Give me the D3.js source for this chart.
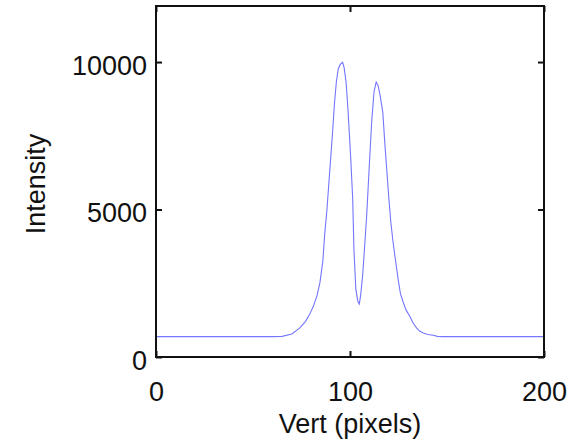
<!DOCTYPE html>
<html>
<head>
<meta charset="utf-8">
<script src="https://cdn.jsdelivr.net/npm/d3@7"></script>
<style>
  html, body { margin: 0; padding: 0; background: #fff; }
  svg text { font-family: "Liberation Sans", Arial, sans-serif; fill: #111; }
</style>
</head>
<body>
<svg id="chart" width="568" height="444"></svg>
<script>
// ---- data ----
const pixelPos = [0, 10, 20, 30, 40, 50, 60, 65, 70, 74, 77, 79, 81, 83, 84.5, 86, 87, 88, 89, 90,
  91, 92, 93, 94, 95, 96.2, 97, 98, 99, 100.4, 101.4, 102, 103, 104, 104.8, 105.5, 106.5, 107.7,
  108.6, 109.4, 110.2, 111.2, 112.4, 113.5, 114.5, 115.5, 116.9, 118, 119, 120, 121, 122, 123.2, 124.9,
  126, 127.5, 129, 130.9, 132.5, 134.4, 136, 137.8, 140, 143, 145, 148, 150, 160, 170, 180, 190, 200];
const intensity = [690, 690, 690, 690, 690, 690, 690, 700, 780, 980, 1200, 1420, 1700, 2080, 2520, 3250, 4200, 4900, 5800, 6700,
  7600, 8600, 9350, 9780, 9920, 9990, 9800, 9300, 8350, 6700, 5350, 3700, 2300, 1900, 1800, 2100, 2750, 3900,
  4800, 5800, 6800, 8000, 9000, 9320, 9200, 8870, 8300, 7200, 6300, 5400, 4600, 4000, 3400, 2600,
  2150, 1840, 1580, 1370, 1150, 980, 870, 810, 760, 740, 700, 690, 690, 690, 690, 690, 690, 690];
const xTicks = [0, 100, 200];
const yTicks = [0, 5000, 10000];
const xLabel = "Vert (pixels)";
const yLabel = "Intensity";

// ---- layout ----
const pL = 156, pR = 544, pT = 6, pB = 357;
const svg = d3.select("#chart");

const x = d3.scaleLinear().domain([0, 200]).range([pL, pR]);
const y = d3.scaleLinear().domain([0, 11900]).range([pB, pT]);

// curve
const line = d3.line().x((d, i) => x(pixelPos[i])).y(d => y(d));
svg.append("path")
  .datum(intensity)
  .attr("d", line)
  .attr("fill", "none")
  .attr("stroke", "#7575ff")
  .attr("stroke-width", 1.1);

// axes (ticks inward, mirrored)
const tickLen = 6;
const fs = 27;
const fmt = d3.format("d");
svg.append("g").attr("transform", `translate(0,${pB})`)
  .call(d3.axisBottom(x).tickValues(xTicks).tickFormat(fmt).tickSizeInner(-tickLen).tickSizeOuter(0))
  .call(g => g.select(".domain").remove())
  .call(g => g.selectAll("line").attr("stroke", "#111").attr("stroke-width", 2))
  .call(g => g.selectAll("text").attr("font-size", fs).attr("dy", "0.71em").attr("y", 25).attr("fill", "#111"));

svg.append("g").attr("transform", `translate(0,${pT})`)
  .call(d3.axisTop(x).tickValues(xTicks).tickSizeInner(-tickLen).tickSizeOuter(0).tickFormat(""))
  .call(g => g.select(".domain").remove())
  .call(g => g.selectAll("line").attr("stroke", "#111").attr("stroke-width", 2));

svg.append("g").attr("transform", `translate(${pL},0)`)
  .call(d3.axisLeft(y).tickValues(yTicks).tickFormat(fmt).tickSizeInner(-tickLen).tickSizeOuter(0))
  .call(g => g.select(".domain").remove())
  .call(g => g.selectAll("line").attr("stroke", "#111").attr("stroke-width", 2))
  .call(g => g.selectAll("text").attr("font-size", fs).attr("x", -9).attr("dy", "0.45em").attr("fill", "#111"));

svg.append("g").attr("transform", `translate(${pR},0)`)
  .call(d3.axisRight(y).tickValues(yTicks).tickSizeInner(-tickLen).tickSizeOuter(0).tickFormat(""))
  .call(g => g.select(".domain").remove())
  .call(g => g.selectAll("line").attr("stroke", "#111").attr("stroke-width", 2));

// frame
svg.append("rect")
  .attr("x", pL).attr("y", pT)
  .attr("width", pR - pL).attr("height", pB - pT)
  .attr("fill", "none").attr("stroke", "#111").attr("stroke-width", 2);

// labels
svg.append("text")
  .attr("x", (pL + pR) / 2).attr("y", 433)
  .attr("text-anchor", "middle").attr("font-size", fs)
  .text(xLabel);

svg.append("text")
  .attr("transform", `translate(45,184) rotate(-90)`)
  .attr("text-anchor", "middle").attr("font-size", fs)
  .text(yLabel);
</script>
</body>
</html>
